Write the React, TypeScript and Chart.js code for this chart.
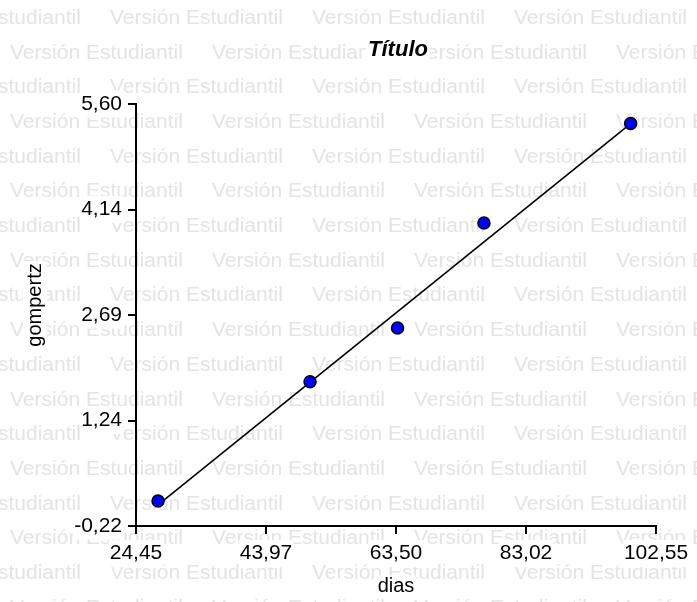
import React, { useEffect, useRef } from "react";
import { Chart, registerables } from "chart.js";

Chart.register(...registerables);

// ---- data ----
const diasValues = [27.76, 50.59, 63.73, 76.71, 98.74];
const gompertzValues = [0.125, 1.77, 2.51, 3.96, 5.33];
const fitDias = [27.76, 98.74];
const fitGompertz = [0.07, 5.33];
const xTickValues = [24.45, 43.975, 63.5, 83.025, 102.55];
const xTickLabels = ["24,45", "43,97", "63,50", "83,02", "102,55"];
const yTickValues = [-0.22, 1.235, 2.69, 4.145, 5.6];
const yTickLabels = ["-0,22", "1,24", "2,69", "4,14", "5,60"];
const chartTitle = "Título";
const xTitle = "dias";
const yTitle = "gompertz";
const watermarkText = "Versión Estudiantil";

const FAMILY = "'Liberation Sans', Arial, sans-serif";

function textWithBg(ctx: CanvasRenderingContext2D, text: string, x: number, y: number, font: string, rotate = 0) {
  ctx.save();
  ctx.font = font;
  ctx.translate(x, y);
  if (rotate) ctx.rotate(rotate);
  const m = ctx.measureText(text);
  const w = m.width;
  const h = m.actualBoundingBoxAscent + m.actualBoundingBoxDescent;
  ctx.fillStyle = "#ffffff";
  ctx.fillRect(-w / 2 - 2, -h / 2 - 3, w + 4, h + 6);
  ctx.fillStyle = "#000000";
  ctx.textAlign = "center";
  ctx.textBaseline = "middle";
  ctx.fillText(text, 0, 0);
  ctx.restore();
}

const decorPlugin = {
  id: "decor",
  beforeDraw(chart: any) {
    const ctx: CanvasRenderingContext2D = chart.ctx;
    ctx.save();
    ctx.fillStyle = "#ffffff";
    ctx.fillRect(0, 0, chart.width, chart.height);
    ctx.font = `20px ${FAMILY}`;
    const w = ctx.measureText(watermarkText).width;
    const size = (20 * 173) / w;
    ctx.font = `${size}px ${FAMILY}`;
    ctx.fillStyle = "#e4e4e4";
    ctx.textBaseline = "middle";
    ctx.textAlign = "left";
    for (let i = 0; i < 18; i++) {
      const y = 18 + 34.7 * i;
      const start = i % 2 === 0 ? -92 : 10;
      for (let x = start; x < chart.width; x += 202) ctx.fillText(watermarkText, x, y);
    }
    ctx.restore();
  },
  afterDraw(chart: any) {
    const ctx: CanvasRenderingContext2D = chart.ctx;
    const a = chart.chartArea;
    textWithBg(ctx, chartTitle, (a.left + a.right) / 2 + 2, 50, `italic bold 22px ${FAMILY}`);
    textWithBg(ctx, xTitle, (a.left + a.right) / 2, 586, `20px ${FAMILY}`);
    textWithBg(ctx, yTitle, 35, 305, `20px ${FAMILY}`, -Math.PI / 2);
  },
};

export default function App() {
  const ref = useRef<HTMLCanvasElement | null>(null);
  useEffect(() => {
    if (!ref.current) return;
    const chart = new Chart(ref.current, {
      type: "scatter",
      data: {
        datasets: [
          {
            label: "gompertz",
            data: diasValues.map((x, i) => ({ x, y: gompertzValues[i] })),
            backgroundColor: "#0000ff",
            borderColor: "#000000",
            borderWidth: 1.5,
            pointRadius: 6,
            showLine: false,
          },
          {
            type: "line",
            label: "ajuste",
            data: fitDias.map((x, i) => ({ x, y: fitGompertz[i] })),
            borderColor: "#000000",
            borderWidth: 1.6,
            pointRadius: 0,
            fill: false,
          } as any,
        ],
      },
      options: {
        responsive: false,
        animation: false,
        layout: { padding: { top: 104, right: 41, left: 0, bottom: 0 } },
        plugins: { legend: { display: false }, tooltip: { enabled: false }, title: { display: false } },
        scales: {
          x: {
            type: "linear",
            min: xTickValues[0],
            max: xTickValues[xTickValues.length - 1],
            afterBuildTicks: (s: any) => {
              s.ticks = xTickValues.map((v) => ({ value: v }));
            },
            afterFit: (s: any) => {
              s.height = 76;
            },
            ticks: {
              callback: (_v: any, i: number) => xTickLabels[i],
              font: { family: FAMILY, size: 21 },
              color: "#000000",
              padding: 7,
              maxRotation: 0,
              autoSkip: false,
              showLabelBackdrop: true,
              backdropColor: "#ffffff",
              backdropPadding: 1,
            } as any,
            grid: { drawOnChartArea: false, drawTicks: true, tickLength: 8, color: "#000000", lineWidth: 2 },
            border: { display: true, color: "#000000", width: 2 },
          },
          y: {
            type: "linear",
            min: yTickValues[0],
            max: yTickValues[yTickValues.length - 1],
            afterBuildTicks: (s: any) => {
              s.ticks = yTickValues.map((v) => ({ value: v }));
            },
            afterFit: (s: any) => {
              s.width = 136;
            },
            ticks: {
              callback: (_v: any, i: number) => yTickLabels[i],
              font: { family: FAMILY, size: 21 },
              color: "#000000",
              padding: 6,
              autoSkip: false,
              showLabelBackdrop: true,
              backdropColor: "#ffffff",
              backdropPadding: 1,
            } as any,
            grid: { drawOnChartArea: false, drawTicks: true, tickLength: 8, color: "#000000", lineWidth: 2 },
            border: { display: true, color: "#000000", width: 2 },
          },
        },
      },
      plugins: [decorPlugin],
    });
    return () => chart.destroy();
  }, []);
  return (
    <div style={{ position: "fixed", left: 0, top: 0, width: 697, height: 602, background: "#fff" }}>
      <canvas ref={ref} width={697} height={602} style={{ display: "block" }} />
    </div>
  );
}
